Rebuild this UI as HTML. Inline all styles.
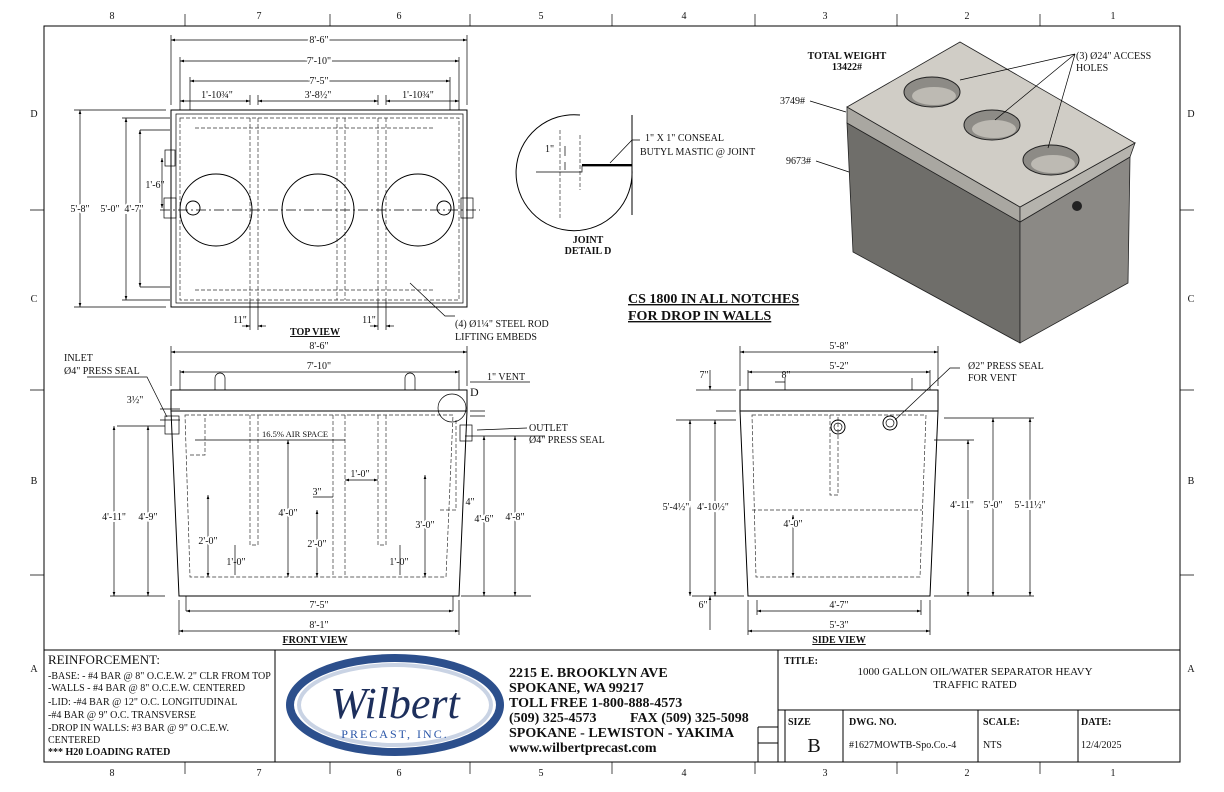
<!DOCTYPE html>
<html><head><meta charset="utf-8"><style>
html,body{margin:0;padding:0;background:#fff}
svg{display:block}
text{font-family:"Liberation Serif",serif;fill:#111}
.s{font-size:10px}
.d{stroke:#000;stroke-width:.7;fill:none}
.t{stroke:#000;stroke-width:1;fill:none}
.h{stroke:#333;stroke-width:.7;fill:none;stroke-dasharray:4 2}
</style></head><body>
<svg width="1224" height="792" viewBox="0 0 1224 792" xmlns="http://www.w3.org/2000/svg">
<defs><marker id="a" markerWidth="6" markerHeight="6" refX="6" refY="3" orient="auto-start-reverse"><path d="M0,1 L6,3 L0,5z" fill="#000"/></marker></defs>
<rect x="44" y="26" width="1136" height="736" class="t"/>
<g class="s" text-anchor="middle">
<text x="112" y="19">8</text><text x="259" y="19">7</text><text x="399" y="19">6</text><text x="541" y="19">5</text><text x="684" y="19">4</text><text x="825" y="19">3</text><text x="967" y="19">2</text><text x="1113" y="19">1</text>
<text x="112" y="776">8</text><text x="259" y="776">7</text><text x="399" y="776">6</text><text x="541" y="776">5</text><text x="684" y="776">4</text><text x="825" y="776">3</text><text x="967" y="776">2</text><text x="1113" y="776">1</text>
<text x="34" y="117">D</text><text x="34" y="302">C</text><text x="34" y="484">B</text><text x="34" y="672">A</text>
<text x="1191" y="117">D</text><text x="1191" y="302">C</text><text x="1191" y="484">B</text><text x="1191" y="672">A</text>
</g>
<g class="d">
<path d="M185,26v-12M330,26v-12M470,26v-12M612,26v-12M755,26v-12M897,26v-12M1040,26v-12"/>
<path d="M185,762v12M330,762v12M470,762v12M612,762v12M755,762v12M897,762v12M1040,762v12"/>
<path d="M44,210h-14M44,390h-14M44,575h-14M1180,210h14M1180,390h14M1180,575h14"/>
</g>

<!-- TOP VIEW -->
<rect x="171" y="110" width="296" height="197" class="t"/>
<rect x="180" y="118" width="279" height="182" class="h"/>
<rect x="176" y="114" width="287" height="189" class="d"/>
<g class="h"><path d="M250,118v182M258,118v182M337,118v182M345,118v182M378,118v182M386,118v182"/>
<path d="M195,128h240M195,290h240"/></g>
<circle cx="216" cy="210" r="36" class="t"/><circle cx="318" cy="210" r="36" class="t"/><circle cx="418" cy="210" r="36" class="t"/>
<circle cx="193" cy="208" r="7" class="t"/><circle cx="444" cy="208" r="7" class="t"/>
<rect x="164" y="198" width="12" height="20" class="d"/><rect x="461" y="198" width="12" height="20" class="d"/><rect x="165" y="150" width="10" height="16" class="d"/>
<path d="M160,210h320" class="d" stroke-dasharray="10 3 2 3"/>
<g class="d">
<path d="M171,105v-70M467,105v-70M180,110v-53M459,110v-53M190,110v-33M450,110v-33"/>
<line x1="171" y1="40" x2="467" y2="40" marker-start="url(#a)" marker-end="url(#a)"/>
<line x1="180" y1="61" x2="459" y2="61" marker-start="url(#a)" marker-end="url(#a)"/>
<line x1="190" y1="81" x2="450" y2="81" marker-start="url(#a)" marker-end="url(#a)"/>
<line x1="180" y1="101" x2="250" y2="101" marker-start="url(#a)" marker-end="url(#a)"/>
<line x1="258" y1="101" x2="378" y2="101" marker-start="url(#a)" marker-end="url(#a)"/>
<line x1="386" y1="101" x2="459" y2="101" marker-start="url(#a)" marker-end="url(#a)"/>
<path d="M250,105v-10M258,105v-10M378,105v-10M386,105v-10"/>
<path d="M166,110h-92M166,307h-92M170,118h-48M170,300h-48M170,130h-30M170,287h-30"/>
<line x1="80" y1="110" x2="80" y2="307" marker-start="url(#a)" marker-end="url(#a)"/>
<line x1="126" y1="118" x2="126" y2="300" marker-start="url(#a)" marker-end="url(#a)"/>
<line x1="140" y1="130" x2="140" y2="287" marker-start="url(#a)" marker-end="url(#a)"/>
<line x1="162" y1="158" x2="162" y2="208" marker-start="url(#a)" marker-end="url(#a)"/>
<path d="M250,300v30M258,300v30M378,300v30M386,300v30M410,283L445,316h10"/>
<line x1="242" y1="326" x2="250" y2="326" marker-end="url(#a)"/><line x1="266" y1="326" x2="258" y2="326" marker-end="url(#a)"/>
<line x1="370" y1="326" x2="378" y2="326" marker-end="url(#a)"/><line x1="394" y1="326" x2="386" y2="326" marker-end="url(#a)"/>
</g>
<g class="s" text-anchor="middle">
<text x="319" y="43" style="paint-order:stroke;stroke:#fff;stroke-width:4">8'-6"</text>
<text x="319" y="64" style="paint-order:stroke;stroke:#fff;stroke-width:4">7'-10"</text>
<text x="319" y="84" style="paint-order:stroke;stroke:#fff;stroke-width:4">7'-5"</text>
<text x="217" y="98">1'-10¾"</text><text x="318" y="98">3'-8½"</text><text x="418" y="98">1'-10¾"</text>
<text x="80" y="212" style="paint-order:stroke;stroke:#fff;stroke-width:4">5'-8"</text>
<text x="110" y="212">5'-0"</text><text x="134" y="212" style="paint-order:stroke;stroke:#fff;stroke-width:4">4'-7"</text>
<text x="155" y="188">1'-6"</text>
<text x="240" y="323">11"</text><text x="369" y="323">11"</text>
<text x="315" y="335" style="text-decoration:underline;font-weight:bold">TOP VIEW</text>
</g>
<text x="455" y="327" class="s">(4) Ø1¼" STEEL ROD</text><text x="455" y="340" class="s">LIFTING EMBEDS</text>

<!-- JOINT DETAIL -->
<path d="M580,115 A58,58 0 1,0 632,170" class="t"/>
<path d="M632,115 V215" class="t"/>
<path d="M560,130 V220 M580,135 V190" class="h"/>
<path d="M536,172 H582 V166 H632" class="d"/>
<path d="M582,165 H632" stroke="#000" stroke-width="2"/>
<path d="M565,162 v8 M565,146 v10" class="d"/>
<path d="M610,163 L632,140 H640" class="d"/>
<text x="545" y="152" class="s">1"</text>
<text x="645" y="141" class="s">1" X 1" CONSEAL</text><text x="640" y="155" class="s">BUTYL MASTIC @ JOINT</text>
<text x="588" y="243" class="s" text-anchor="middle" font-weight="bold">JOINT</text><text x="588" y="254" class="s" text-anchor="middle" font-weight="bold">DETAIL D</text>
<text x="628" y="303" font-size="14" font-weight="bold" style="text-decoration:underline">CS 1800 IN ALL NOTCHES</text>
<text x="628" y="320" font-size="14" font-weight="bold" style="text-decoration:underline">FOR DROP IN WALLS</text>

<!-- ISO -->
<polygon points="847,123 1020,222 1020,343 853,252" fill="#6f6e6a" stroke="#222" stroke-width=".8"/>
<polygon points="1020,222 1130,157 1128,283 1020,343" fill="#8b8985" stroke="#222" stroke-width=".8"/>
<polygon points="847,107 1020,207 1020,222 847,123" fill="#a9a7a1" stroke="#222" stroke-width=".8"/>
<polygon points="1020,207 1135,143 1130,157 1020,222" fill="#b5b3ad" stroke="#222" stroke-width=".8"/>
<polygon points="847,107 960,42 1135,143 1020,207" fill="#d0cdc6" stroke="#222" stroke-width=".8"/>
<ellipse cx="932" cy="92" rx="28" ry="15" fill="#8d8b86" stroke="#222"/><ellipse cx="992" cy="125" rx="28" ry="15" fill="#8d8b86" stroke="#222"/><ellipse cx="1051" cy="160" rx="28" ry="15" fill="#8d8b86" stroke="#222"/>
<ellipse cx="934" cy="96" rx="22" ry="9" fill="#bdbab3"/><ellipse cx="994" cy="129" rx="22" ry="9" fill="#bdbab3"/><ellipse cx="1053" cy="164" rx="22" ry="9" fill="#bdbab3"/>
<circle cx="1077" cy="206" r="5" fill="#222"/>
<text x="847" y="59" class="s" text-anchor="middle" font-weight="bold">TOTAL WEIGHT</text><text x="847" y="70" class="s" text-anchor="middle" font-weight="bold">13422#</text>
<text x="1076" y="59" class="s">(3) Ø24" ACCESS</text><text x="1076" y="71" class="s">HOLES</text>
<path d="M1075,54 L960,80 M1075,54 L995,120 M1075,54 L1048,148" class="d"/>
<text x="780" y="104" class="s">3749#</text><text x="786" y="164" class="s">9673#</text>
<path d="M810,101 L846,112 M816,161 L849,172" class="d"/>

<!-- FRONT VIEW -->
<rect x="171" y="390" width="296" height="21" class="t"/>
<polygon points="171,411 467,411 459,596 179,596" class="t"/>
<polygon points="185,415 453,415 446,577 190,577" class="h"/>
<g class="h"><path d="M250,415v130h8v-130M378,415v130h8v-130M333,415v162M345,415v162M190,455h15V415M440,510h16V420"/></g>
<path d="M215,390v-12a5,5 0 0,1 10,0v12M405,390v-12a5,5 0 0,1 10,0v12" class="d"/>
<rect x="165" y="416" width="14" height="18" class="d"/><rect x="460" y="425" width="12" height="16" class="d"/>
<circle cx="452" cy="408" r="14" class="d"/><text x="470" y="396" font-size="12" font-family="Liberation Sans">D</text>
<g class="d">
<path d="M171,386v-40M467,386v-40M180,390v-20M459,390v-20M179,600v35M459,600v35M186,596v15M453,596v15"/>
<line x1="171" y1="352" x2="467" y2="352" marker-start="url(#a)" marker-end="url(#a)"/>
<line x1="180" y1="372" x2="459" y2="372" marker-start="url(#a)" marker-end="url(#a)"/>
<line x1="186" y1="611" x2="453" y2="611" marker-start="url(#a)" marker-end="url(#a)"/>
<line x1="179" y1="631" x2="459" y2="631" marker-start="url(#a)" marker-end="url(#a)"/>
<path d="M165,426h-48M165,596h-55M465,436h80M461,596h70"/>
<line x1="114" y1="426" x2="114" y2="596" marker-start="url(#a)" marker-end="url(#a)"/>
<line x1="148" y1="426" x2="148" y2="596" marker-start="url(#a)" marker-end="url(#a)"/>
<line x1="484" y1="436" x2="484" y2="596" marker-start="url(#a)" marker-end="url(#a)"/>
<line x1="515" y1="436" x2="515" y2="596" marker-start="url(#a)" marker-end="url(#a)"/>
<line x1="288" y1="440" x2="288" y2="577" marker-start="url(#a)" marker-end="url(#a)"/>
<line x1="208" y1="495" x2="208" y2="577" marker-start="url(#a)" marker-end="url(#a)"/>
<line x1="317" y1="510" x2="317" y2="577" marker-start="url(#a)" marker-end="url(#a)"/>
<line x1="425" y1="475" x2="425" y2="577" marker-start="url(#a)" marker-end="url(#a)"/>
<line x1="345" y1="480" x2="378" y2="480" marker-start="url(#a)" marker-end="url(#a)"/>
<path d="M235,545v30M400,545v30M195,440h150M470,382h60M470,411h15M470,416h15M160,409h20M160,420h20M313,497h20"/>
<path d="M87,377h60l20,40M477,430L527,428"/>
</g>
<g class="s" text-anchor="middle">
<text x="319" y="349">8'-6"</text><text x="319" y="369">7'-10"</text>
<text x="319" y="608">7'-5"</text><text x="319" y="628">8'-1"</text>
<text x="315" y="643" font-weight="bold" style="text-decoration:underline">FRONT VIEW</text>
<text x="114" y="520" style="paint-order:stroke;stroke:#fff;stroke-width:4">4'-11"</text><text x="148" y="520" style="paint-order:stroke;stroke:#fff;stroke-width:4">4'-9"</text>
<text x="484" y="522" style="paint-order:stroke;stroke:#fff;stroke-width:4">4'-6"</text><text x="515" y="520" style="paint-order:stroke;stroke:#fff;stroke-width:4">4'-8"</text>
<text x="288" y="516" style="paint-order:stroke;stroke:#fff;stroke-width:4">4'-0"</text>
<text x="208" y="544" style="paint-order:stroke;stroke:#fff;stroke-width:4">2'-0"</text><text x="317" y="547" style="paint-order:stroke;stroke:#fff;stroke-width:4">2'-0"</text>
<text x="425" y="528" style="paint-order:stroke;stroke:#fff;stroke-width:4">3'-0"</text>
<text x="236" y="565">1'-0"</text><text x="399" y="565">1'-0"</text><text x="360" y="477">1'-0"</text>
<text x="317" y="495">3"</text><text x="470" y="505">4"</text><text x="135" y="403">3½"</text>
</g>
<text x="262" y="437" font-size="8.5">16.5% AIR SPACE</text>
<text x="64" y="361" class="s">INLET</text><text x="64" y="374" class="s">Ø4" PRESS SEAL</text>
<text x="487" y="380" class="s">1" VENT</text>
<text x="529" y="431" class="s">OUTLET</text><text x="529" y="443" class="s">Ø4" PRESS SEAL</text>

<!-- SIDE VIEW -->
<rect x="740" y="390" width="198" height="21" class="t"/>
<polygon points="740,411 938,411 930,596 748,596" class="t"/>
<polygon points="752,415 926,415 920,577 756,577" class="h"/>
<path d="M752,510h170M830,415v80h8v-80" class="h"/>
<circle cx="838" cy="427" r="7" class="t"/><circle cx="838" cy="427" r="4" class="d"/><circle cx="890" cy="423" r="7" class="t"/><circle cx="890" cy="423" r="4" class="d"/>
<path d="M785,390v-12M912,390v-12" class="d"/>
<g class="d">
<path d="M740,386v-40M938,386v-40M748,390v-20M930,390v-20M748,600v35M930,600v35M757,600v15M921,600v15"/>
<line x1="740" y1="352" x2="938" y2="352" marker-start="url(#a)" marker-end="url(#a)"/>
<line x1="748" y1="372" x2="930" y2="372" marker-start="url(#a)" marker-end="url(#a)"/>
<line x1="757" y1="611" x2="921" y2="611" marker-start="url(#a)" marker-end="url(#a)"/>
<line x1="748" y1="631" x2="930" y2="631" marker-start="url(#a)" marker-end="url(#a)"/>
<path d="M736,390h-40M736,411h-20M744,596h-52M736,420h-60M944,418h90M934,596h100M934,440h40"/>
<line x1="690" y1="420" x2="690" y2="596" marker-start="url(#a)" marker-end="url(#a)"/>
<line x1="715" y1="420" x2="715" y2="596" marker-start="url(#a)" marker-end="url(#a)"/>
<line x1="968" y1="440" x2="968" y2="596" marker-start="url(#a)" marker-end="url(#a)"/>
<line x1="993" y1="418" x2="993" y2="596" marker-start="url(#a)" marker-end="url(#a)"/>
<line x1="1030" y1="418" x2="1030" y2="596" marker-start="url(#a)" marker-end="url(#a)"/>
<line x1="793" y1="515" x2="793" y2="577" marker-start="url(#a)" marker-end="url(#a)"/>
<line x1="710" y1="370" x2="710" y2="390" marker-end="url(#a)"/><line x1="710" y1="630" x2="710" y2="596" marker-end="url(#a)"/>
<path d="M895,420L950,368h10M775,382h10"/>
</g>
<g class="s" text-anchor="middle">
<text x="839" y="349">5'-8"</text><text x="839" y="369">5'-2"</text>
<text x="839" y="608">4'-7"</text><text x="839" y="628">5'-3"</text>
<text x="839" y="643" font-weight="bold" style="text-decoration:underline">SIDE VIEW</text>
<text x="704" y="378">7"</text><text x="786" y="378">8"</text><text x="703" y="608">6"</text>
<text x="676" y="510" style="paint-order:stroke;stroke:#fff;stroke-width:4">5'-4½"</text><text x="713" y="510" style="paint-order:stroke;stroke:#fff;stroke-width:4">4'-10½"</text>
<text x="793" y="527" style="paint-order:stroke;stroke:#fff;stroke-width:4">4'-0"</text>
<text x="962" y="508" style="paint-order:stroke;stroke:#fff;stroke-width:4">4'-11"</text><text x="993" y="508" style="paint-order:stroke;stroke:#fff;stroke-width:4">5'-0"</text><text x="1030" y="508" style="paint-order:stroke;stroke:#fff;stroke-width:4">5'-11½"</text>
</g>
<text x="968" y="369" class="s">Ø2" PRESS SEAL</text><text x="968" y="381" class="s">FOR VENT</text>

<!-- TITLE BLOCK -->
<g class="t"><path d="M44,650H1180M275,650V762M778,650V762M778,710H1180M785,710V762M843,710V762M978,710V762M1078,710V762M758,727H778M758,743H778M758,727V762"/></g>
<text x="48" y="664" font-size="13">REINFORCEMENT:</text>
<g font-size="10"><text x="48" y="679">-BASE:  - #4 BAR @ 8" O.C.E.W. 2" CLR FROM TOP</text>
<text x="48" y="691">-WALLS - #4 BAR @ 8" O.C.E.W. CENTERED</text>
<text x="48" y="705">-LID: -#4 BAR @ 12" O.C. LONGITUDINAL</text>
<text x="48" y="718">-#4 BAR @ 9" O.C. TRANSVERSE</text>
<text x="48" y="731">-DROP IN WALLS: #3 BAR @ 9" O.C.E.W.</text>
<text x="48" y="743">CENTERED</text>
<text x="48" y="755" font-weight="bold">*** H20 LOADING RATED</text></g>
<ellipse cx="395" cy="705" rx="105" ry="47" fill="none" stroke="#2c4f8c" stroke-width="8"/>
<ellipse cx="395" cy="705" rx="96" ry="40" fill="none" stroke="#c9d3e4" stroke-width="4"/>
<text x="395" y="718" font-size="44" font-style="italic" text-anchor="middle" style="fill:#1d2f5c">Wilbert</text>
<text x="395" y="738" font-size="12" font-family="Liberation Sans" text-anchor="middle" style="fill:#2a56a8" letter-spacing="2">PRECAST, INC.</text>
<g font-size="14" font-weight="bold"><text x="509" y="677">2215 E. BROOKLYN AVE</text><text x="509" y="692">SPOKANE, WA 99217</text><text x="509" y="707">TOLL FREE 1-800-888-4573</text><text x="509" y="722">(509) 325-4573</text><text x="630" y="722">FAX (509) 325-5098</text><text x="509" y="737">SPOKANE - LEWISTON - YAKIMA</text><text x="509" y="752">www.wilbertprecast.com</text></g>
<text x="784" y="664" font-size="10" font-weight="bold">TITLE:</text>
<text x="975" y="675" font-size="11" text-anchor="middle">1000 GALLON OIL/WATER SEPARATOR HEAVY</text>
<text x="975" y="688" font-size="11" text-anchor="middle">TRAFFIC RATED</text>
<g font-size="10" font-weight="bold"><text x="788" y="725">SIZE</text><text x="849" y="725">DWG.  NO.</text><text x="983" y="725">SCALE:</text><text x="1081" y="725">DATE:</text></g>
<text x="814" y="752" font-size="20" text-anchor="middle">B</text>
<text x="849" y="748" font-size="10">#1627MOWTB-Spo.Co.-4</text>
<text x="983" y="748" font-size="10">NTS</text><text x="1081" y="748" font-size="10">12/4/2025</text>
</svg>
</body></html>
